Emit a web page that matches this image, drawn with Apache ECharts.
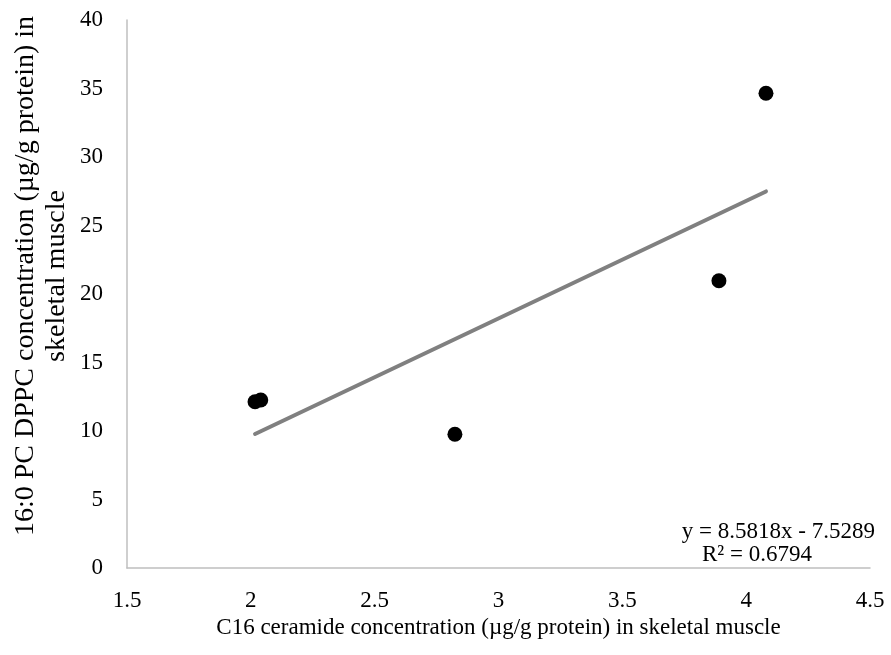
<!DOCTYPE html>
<html>
<head>
<meta charset="utf-8">
<script src="https://cdn.jsdelivr.net/npm/echarts@6/dist/echarts.min.js"></script>
<style>
  html, body { margin: 0; padding: 0; background: #fff; }
  #chart { width: 891px; height: 655px; }
</style>
</head>
<body>
<div id="chart"></div>
<script>
// C16 ceramide (x) vs 16:0 PC DPPC (y), skeletal muscle
const ceramideC16 = [2.017, 2.04, 2.824, 3.89, 4.08];
const dppc16 = [12.14, 12.26, 9.76, 20.97, 34.65];

// Linear trendline coefficients shown in the annotation
const slope = 8.5818;
const intercept = -7.5289;
const rSquared = 0.6794;

const xTicks = { min: 1.5, max: 4.5, interval: 0.5 };
const yTicks = { min: 0, max: 40, interval: 5 };

const xTitle = 'C16 ceramide concentration (µg/g protein) in skeletal muscle';
const yTitle = '16:0 PC DPPC concentration (µg/g protein) in\nskeletal muscle';

const points = ceramideC16.map((x, i) => [x, dppc16[i]]);
const xLo = Math.min(...ceramideC16);
const xHi = Math.max(...ceramideC16);
const trend = [xLo, xHi].map(x => [x, slope * x + intercept]);

const fontFamily = '"Liberation Serif", "Times New Roman", serif';
const fontSize = 23;
const yTitleSize = 28;
const axisGray = '#bfbfbf';

const chart = echarts.init(document.getElementById('chart'), null, { renderer: 'canvas' });
chart.setOption({
  animation: false,
  backgroundColor: '#ffffff',
  textStyle: { fontFamily: fontFamily },
  grid: { left: 127, right: 21, top: 20, bottom: 87, outerBoundsMode: 'none', containLabel: false },
  xAxis: {
    type: 'value',
    min: xTicks.min, max: xTicks.max, interval: xTicks.interval,
    axisLine: { show: true, onZero: false, lineStyle: { color: axisGray, width: 1.5 } },
    axisTick: { show: false },
    splitLine: { show: false },
    axisLabel: { color: '#000', fontSize: fontSize, fontFamily: fontFamily, margin: 21 },
    name: xTitle,
    nameLocation: 'middle',
    nameGap: 47,
    nameTextStyle: { color: '#000', fontSize: fontSize, fontFamily: fontFamily }
  },
  yAxis: {
    type: 'value',
    min: yTicks.min, max: yTicks.max, interval: yTicks.interval,
    axisLine: { show: true, lineStyle: { color: axisGray, width: 1.5 } },
    axisTick: { show: false },
    splitLine: { show: false },
    axisLabel: { color: '#000', fontSize: fontSize, fontFamily: fontFamily, margin: 24 }
  },
  series: [
    {
      type: 'line',
      data: trend,
      symbol: 'none',
      lineStyle: { color: '#808080', width: 4, cap: 'round' },
      z: 2
    },
    {
      type: 'scatter',
      data: points,
      symbol: 'circle',
      symbolSize: 15,
      itemStyle: { color: '#000000', opacity: 1 },
      z: 3
    }
  ],
  graphic: [
    {
      // vertical axis title, two lines, reading bottom to top
      type: 'text',
      x: 41, y: 276,
      rotation: Math.PI / 2,
      style: {
        text: yTitle,
        font: yTitleSize + 'px ' + fontFamily,
        lineHeight: 31,
        fill: '#000',
        align: 'center',
        verticalAlign: 'middle'
      }
    },
    {
      type: 'text',
      right: 16, top: 520,
      style: {
        text: 'y = ' + slope.toFixed(4) + 'x - ' + Math.abs(intercept).toFixed(4),
        font: fontSize + 'px ' + fontFamily,
        fill: '#000'
      }
    },
    {
      type: 'text',
      left: 702, top: 543,
      style: {
        text: 'R² = ' + rSquared.toFixed(4),
        font: fontSize + 'px ' + fontFamily,
        fill: '#000'
      }
    }
  ]
});
</script>
</body>
</html>
